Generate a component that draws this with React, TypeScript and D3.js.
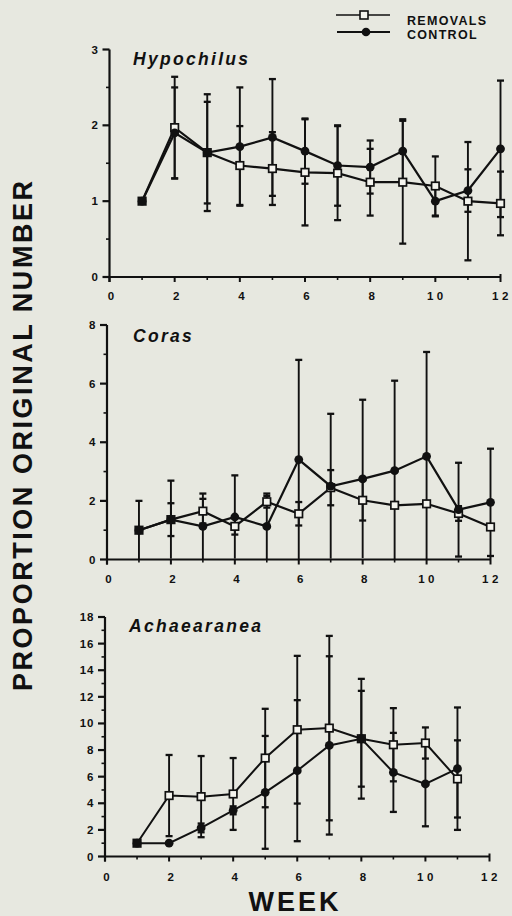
import React from 'react';
import * as d3 from 'd3';

// ---------- DATA ----------
const weeks12 = [1, 2, 3, 4, 5, 6, 7, 8, 9, 10, 11, 12];
const weeks11 = [1, 2, 3, 4, 5, 6, 7, 8, 9, 10, 11];
const xTicks = [0, 2, 4, 6, 8, 10, 12];

// Hypochilus
const hypoRemovalsMean = [1.0, 1.97, 1.64, 1.47, 1.43, 1.38, 1.37, 1.25, 1.25, 1.2, 1.0, 0.97];
const hypoRemovalsErr = [0, 0.67, 0.77, 0.52, 0.48, 0.7, 0.62, 0.44, 0.81, 0.39, 0.78, 0.42];
const hypoControlMean = [1.0, 1.9, 1.64, 1.72, 1.84, 1.66, 1.47, 1.45, 1.66, 1.0, 1.14, 1.69];
const hypoControlErr = [0, 0.6, 0.67, 0.78, 0.77, 0.43, 0.53, 0.35, 0.42, 0.2, 0.28, 0.9];
const hypoYTicks = [0, 1, 2, 3];

// Coras
const corasRemovalsMean = [1.0, 1.36, 1.65, 1.13, 1.97, 1.56, 2.45, 2.02, 1.85, 1.9, 1.57, 1.11];
const corasRemovalsErr = [1.0, 1.33, 0.42, 0.28, 0.2, 0.4, 0.6, 0.69, 0, 0, 0.25, 0];
const corasControlMean = [1.0, 1.36, 1.13, 1.45, 1.13, 3.41, 2.5, 2.75, 3.03, 3.52, 1.7, 1.95];
const corasControlErr = [0, 0.56, 1.12, 1.42, 1.12, 3.4, 2.47, 2.7, 3.07, 3.56, 1.6, 1.83];
const corasYTicks = [0, 2, 4, 6, 8];

// Achaearanea
const achaRemovalsMean = [1.0, 4.58, 4.5, 4.7, 7.4, 9.53, 9.65, 8.85, 8.4, 8.53, 5.83];
const achaRemovalsErr = [0, 3.05, 3.05, 2.7, 3.7, 5.55, 6.93, 3.6, 2.75, 1.17, 2.9];
const achaControlMean = [1.0, 1.0, 2.15, 3.47, 4.82, 6.45, 8.35, 8.85, 6.32, 5.45, 6.6];
const achaControlErr = [0, 0, 0.33, 0.3, 4.24, 5.3, 6.7, 4.5, 2.97, 3.18, 4.6];
const achaYTicks = [0, 2, 4, 6, 8, 10, 12, 14, 16, 18];

const legendLabels = ['REMOVALS', 'CONTROL'];
const yTitle = 'PROPORTION ORIGINAL NUMBER';
const xTitle = 'WEEK';

// ---------- LAYOUT ----------
const FONT = "'Liberation Sans', Arial, Helvetica, sans-serif";
const BG = '#e7e8e0';
const INK = '#111';

type PanelCfg = {
  title: string;
  weeks: number[];
  remMean: number[];
  remErr: number[];
  ctlMean: number[];
  ctlErr: number[];
  yTicks: number[];
  yMinorStep: number;
  left: number;
  right: number;
  top: number;
  bottom: number;
  titleX: number;
  titleY: number;
  labelY: number;
  lineW: number;
};

const panels: PanelCfg[] = [
  {
    title: 'Hypochilus', weeks: weeks12,
    remMean: hypoRemovalsMean, remErr: hypoRemovalsErr,
    ctlMean: hypoControlMean, ctlErr: hypoControlErr,
    yTicks: hypoYTicks, yMinorStep: 0.5,
    left: 109.5, right: 500.5, top: 49.5, bottom: 277,
    titleX: 133, titleY: 65, labelY: 300, lineW: 2.2,
  },
  {
    title: 'Coras', weeks: weeks12,
    remMean: corasRemovalsMean, remErr: corasRemovalsErr,
    ctlMean: corasControlMean, ctlErr: corasControlErr,
    yTicks: corasYTicks, yMinorStep: 1,
    left: 107, right: 490.5, top: 325, bottom: 559.5,
    titleX: 133, titleY: 342, labelY: 582.5, lineW: 2.2,
  },
  {
    title: 'Achaearanea', weeks: weeks11,
    remMean: achaRemovalsMean, remErr: achaRemovalsErr,
    ctlMean: achaControlMean, ctlErr: achaControlErr,
    yTicks: achaYTicks, yMinorStep: 1,
    left: 105, right: 489.5, top: 617, bottom: 856.5,
    titleX: 129, titleY: 632, labelY: 880.5, lineW: 2,
  },
];

function ErrorBars({ weeks, mean, err, x, y }: any) {
  const cap = 3.5;
  return (
    <g stroke={INK} strokeWidth={1.9}>
      {weeks.map((w: number, i: number) => {
        const e = err[i];
        if (!e) return null;
        const lo = mean[i] - e;
        const hi = mean[i] + e;
        const cx = x(w);
        const yLo = y(Math.max(0, lo));
        const yHi = y(hi);
        return (
          <g key={i}>
            <line x1={cx} x2={cx} y1={yLo} y2={yHi} />
            <line x1={cx - cap} x2={cx + cap} y1={yHi} y2={yHi} strokeWidth={2.3} />
            {lo > 0.05 && <line x1={cx - cap} x2={cx + cap} y1={yLo} y2={yLo} strokeWidth={2.3} />}
          </g>
        );
      })}
    </g>
  );
}

function Panel({ cfg }: { cfg: PanelCfg }) {
  const yMax = cfg.yTicks[cfg.yTicks.length - 1];
  const x = d3.scaleLinear().domain([0, 12]).range([cfg.left, cfg.right]);
  const y = d3.scaleLinear().domain([0, yMax]).range([cfg.bottom, cfg.top]);
  const mk = (vals: number[]) =>
    d3.line<number>().x((_, i) => x(cfg.weeks[i])).y((d) => y(d))(vals) || '';
  const yMinor = d3.range(0, yMax + 1e-9, cfg.yMinorStep).filter((v) => !cfg.yTicks.includes(v));
  const xAll = d3.range(0, 13);
  const sq = 7.5;
  return (
    <g>
      {/* axes */}
      <g stroke={INK} strokeWidth={2.2} fill="none">
        <line x1={cfg.left} x2={cfg.left} y1={cfg.top} y2={cfg.bottom + 5} />
        <line x1={cfg.left} x2={cfg.right} y1={cfg.bottom} y2={cfg.bottom} />
        {cfg.yTicks.map((t) => (
          <line key={'yt' + t} x1={cfg.left - 7} x2={cfg.left} y1={y(t)} y2={y(t)} />
        ))}
        {yMinor.map((t) => (
          <line key={'ym' + t} x1={cfg.left - 3.5} x2={cfg.left} y1={y(t)} y2={y(t)} strokeWidth={1.6} />
        ))}
        {xAll.map((t) => (
          <line
            key={'xt' + t}
            x1={x(t)}
            x2={x(t)}
            y1={t === 12 ? cfg.bottom - 3 : cfg.bottom}
            y2={cfg.bottom + (t % 2 === 0 ? 5 : 3)}
            strokeWidth={t % 2 === 0 ? 2 : 1.6}
          />
        ))}
      </g>
      {/* tick labels */}
      <g fontFamily={FONT} fontWeight="bold" fontSize={11.5} fill={INK}>
        {cfg.yTicks.map((t) => (
          <text key={'yl' + t} x={cfg.left - 10.5} y={y(t) + 4} textAnchor="end" letterSpacing={1}>
            {t}
          </text>
        ))}
        {xTicks.map((t) => (
          <text key={'xl' + t} x={x(t) + 1.5} y={cfg.labelY} textAnchor="middle" letterSpacing={t >= 10 ? 3.5 : 0}>
            {t}
          </text>
        ))}
      </g>
      {/* title */}
      <text
        x={cfg.titleX}
        y={cfg.titleY}
        fontFamily={FONT}
        fontWeight="bold"
        fontStyle="italic"
        fontSize={17.5}
        letterSpacing={2.3}
        fill={INK}
      >
        {cfg.title}
      </text>
      {/* error bars */}
      <ErrorBars weeks={cfg.weeks} mean={cfg.remMean} err={cfg.remErr} x={x} y={y} />
      <ErrorBars weeks={cfg.weeks} mean={cfg.ctlMean} err={cfg.ctlErr} x={x} y={y} />
      {/* lines */}
      <path d={mk(cfg.remMean)} fill="none" stroke={INK} strokeWidth={cfg.lineW} />
      <path d={mk(cfg.ctlMean)} fill="none" stroke={INK} strokeWidth={cfg.lineW} />
      {/* markers */}
      {cfg.remMean.map((v, i) => (
        <rect
          key={'r' + i}
          x={x(cfg.weeks[i]) - sq / 2}
          y={y(v) - sq / 2}
          width={sq}
          height={sq}
          fill="#f4f4ee"
          stroke={INK}
          strokeWidth={1.7}
        />
      ))}
      {cfg.ctlMean.map((v, i) => (
        <circle key={'c' + i} cx={x(cfg.weeks[i])} cy={y(v)} r={4.4} fill={INK} />
      ))}
    </g>
  );
}

export default function App() {
  return (
    <div style={{ position: 'absolute', left: 0, top: 0 }}>
      <svg width={512} height={916} style={{ display: 'block' }}>
        <rect x={0} y={0} width={512} height={916} fill={BG} />
        {/* legend */}
        <g stroke={INK} strokeWidth={1.6}>
          <line x1={336} x2={390} y1={15} y2={15} />
          <rect x={360} y={11} width={8} height={8} fill="#f4f4ee" />
          <line x1={337} x2={390} y1={32} y2={32} strokeWidth={2} />
          <circle cx={366} cy={32} r={4.3} fill={INK} stroke="none" />
        </g>
        <g fontFamily={FONT} fontWeight="bold" fontSize={12.5} letterSpacing={1.3} fill={INK}>
          <text x={407} y={25}>{legendLabels[0]}</text>
          <text x={407} y={39}>{legendLabels[1]}</text>
        </g>
        {panels.map((p) => (
          <Panel key={p.title} cfg={p} />
        ))}
        {/* axis titles */}
        <text
          transform="translate(32,436) rotate(-90)"
          textAnchor="middle"
          fontFamily={FONT}
          fontWeight="bold"
          fontSize={27}
          textLength={510}
          lengthAdjust="spacing"
          fill={INK}
        >
          {yTitle}
        </text>
        <text
          x={295}
          y={911}
          textAnchor="middle"
          fontFamily={FONT}
          fontWeight="bold"
          fontSize={27}
          letterSpacing={3}
          fill={INK}
        >
          {xTitle}
        </text>
      </svg>
    </div>
  );
}
